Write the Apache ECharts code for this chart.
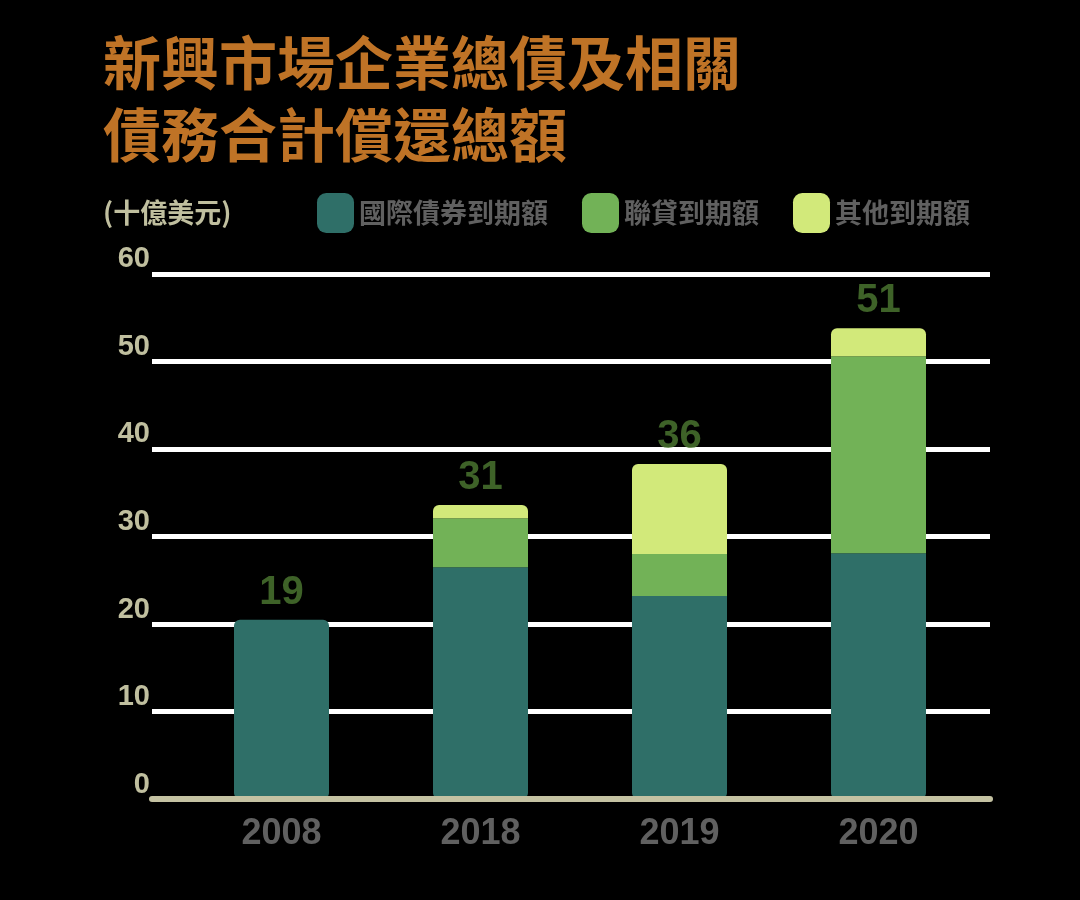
<!DOCTYPE html>
<html>
<head>
<meta charset="utf-8">
<script src="https://cdn.jsdelivr.net/npm/echarts@6/dist/echarts.min.js"></script>
<style>
html,body{margin:0;padding:0;background:#000;}
#c{width:1080px;height:900px;}
</style>
</head>
<body>
<div id="c"></div>
<script>
// ---- data ----
const categories = ['2008', '2018', '2019', '2020'];
const seriesNames = ['國際債券到期額', '聯貸到期額', '其他到期額'];
const bondValues = [20.5, 26.5, 23.2, 28.1];
const loanValues = [0, 5.6, 4.8, 22.5];
const otherValues = [0, 1.5, 10.3, 3.2];
const totalLabels = ['19', '31', '36', '51'];
const yMin = 0, yMax = 60, yInterval = 10;
const titleText = '新興市場企業總債及相關\n債務合計償還總額';
const unitText = '(十億美元)';

// ---- styles ----
const colors = ['#2f6f68', '#72b257', '#d2e97a'];
const numFont = '"Liberation Sans", "Noto Sans CJK TC", sans-serif';
const cjkFont = '"Noto Sans CJK TC", "Noto Sans", sans-serif';
const R = 6;

const stacks = [bondValues, loanValues, otherValues];
const totals = categories.map((_, i) => stacks.reduce((s, a) => s + a[i], 0));
function topIndex(i) { let t = 0; stacks.forEach((a, k) => { if (a[i] > 0) t = k; }); return t; }
function seriesData(k) {
  return stacks[k].map((v, i) => {
    const top = topIndex(i) === k;
    const bottom = k === 0;
    return { value: v, itemStyle: { borderRadius: [top ? R : 0, top ? R : 0, bottom ? R : 0, bottom ? R : 0] } };
  });
}

const chart = echarts.init(document.getElementById('c'), null, { renderer: 'canvas' });
chart.setOption({
  backgroundColor: '#000',
  animation: false,
  title: [
    { text: titleText, left: 98, top: 22,
      textStyle: { color: '#bf7326', fontSize: 58, fontWeight: 'bold', fontFamily: cjkFont, lineHeight: 72 } },
    { text: unitText, left: 98, top: 194,
      textStyle: { color: '#c0bf9f', fontSize: 27, fontWeight: 'bold', fontFamily: cjkFont } }
  ],
  legend: {
    data: seriesNames, left: 312, top: 188, itemWidth: 37, itemHeight: 40, itemGap: 34,
    icon: 'roundRect',
    textStyle: { color: '#606060', fontSize: 27, fontWeight: 'bold', fontFamily: cjkFont }
  },
  grid: [
    { left: 152, right: 90, top: 274, bottom: 101 },
    { left: 182, right: 102, top: 274, bottom: 101 }
  ],
  xAxis: [
    { type: 'category', gridIndex: 0, data: categories,
      axisLine: { show: true, lineStyle: { color: '#c4c2a2', width: 6 } },
      axisTick: { show: false }, axisLabel: { show: false }, z: 5 },
    { type: 'category', gridIndex: 1, data: categories,
      axisLine: { show: false }, axisTick: { show: false },
      axisLabel: { color: '#606060', fontSize: 36, fontWeight: 'bold', fontFamily: numFont, margin: 17 } }
  ],
  yAxis: [
    { type: 'value', gridIndex: 0, min: yMin, max: yMax, interval: yInterval,
      axisLine: { show: false }, axisTick: { show: false },
      splitLine: { lineStyle: { color: '#ffffff', width: 5 } },
      axisLabel: { color: '#c0bf9f', fontSize: 29, fontWeight: 'bold', fontFamily: numFont,
        verticalAlign: 'bottom', margin: 2 } },
    { type: 'value', gridIndex: 1, min: yMin, max: yMax, interval: yInterval,
      show: false, splitLine: { show: false } }
  ],
  series: [
    ...seriesNames.map((name, k) => ({
      name, type: 'bar', stack: 'total', xAxisIndex: 1, yAxisIndex: 1,
      barWidth: 95, itemStyle: { color: colors[k] }, data: seriesData(k)
    })),
    { type: 'scatter', xAxisIndex: 1, yAxisIndex: 1, data: totals,
      symbolSize: 2, itemStyle: { color: 'rgba(0,0,0,0)' }, silent: true, z: 10,
      label: { show: true, position: 'top', distance: 6,
        formatter: p => totalLabels[p.dataIndex],
        color: '#4e7a32', fontSize: 40, fontWeight: 'bold', fontFamily: numFont } }
  ]
});
</script>
</body>
</html>
